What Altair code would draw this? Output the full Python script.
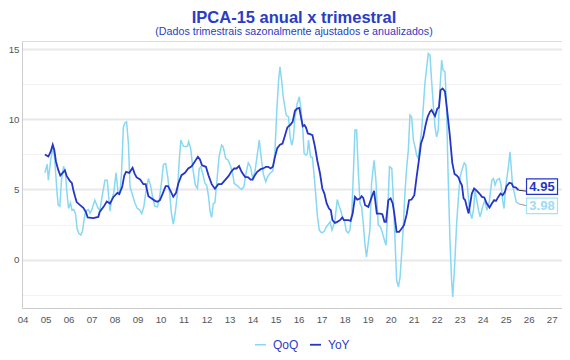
import altair as alt
import pandas as pd

# ---- data (decimal year, % a.a.) ----
yoy_x = [2004.97, 2005.12, 2005.22, 2005.31, 2005.38, 2005.45, 2005.55, 2005.64, 2005.75, 2005.84, 2005.92,
         2006.06, 2006.14, 2006.2, 2006.28, 2006.35, 2006.5, 2006.64, 2006.75, 2006.83, 2007.07, 2007.29,
         2007.35, 2007.52, 2007.66, 2007.8, 2007.95, 2008.12, 2008.2, 2008.33, 2008.42, 2008.5, 2008.64,
         2008.78, 2008.88, 2008.96, 2009.11, 2009.25, 2009.35, 2009.47, 2009.61, 2009.76, 2009.86, 2009.97,
         2010.09, 2010.22, 2010.32, 2010.43, 2010.55, 2010.67, 2010.77, 2010.91, 2011.06, 2011.2, 2011.35,
         2011.45, 2011.62, 2011.71, 2011.8, 2011.97, 2012.08, 2012.22, 2012.36, 2012.51, 2012.65, 2012.8,
         2012.95, 2013.09, 2013.2, 2013.3, 2013.41, 2013.52, 2013.67, 2013.81, 2013.91, 2014.0, 2014.1,
         2014.2, 2014.35, 2014.46, 2014.58, 2014.68, 2014.78, 2014.88, 2014.97, 2015.07, 2015.19, 2015.3,
         2015.41, 2015.51, 2015.63, 2015.74, 2015.84, 2015.94, 2016.03, 2016.1, 2016.18, 2016.25, 2016.32,
         2016.4, 2016.5, 2016.6, 2016.71, 2016.81, 2016.93, 2017.03, 2017.12, 2017.22, 2017.32, 2017.4,
         2017.47, 2017.58, 2017.68, 2017.8, 2017.9, 2017.97, 2018.16, 2018.26, 2018.35, 2018.45, 2018.55,
         2018.67, 2018.74, 2018.81, 2018.89, 2019.03, 2019.18, 2019.28, 2019.4, 2019.54, 2019.64, 2019.73,
         2019.8, 2019.9, 2020.0, 2020.09, 2020.16, 2020.26, 2020.37, 2020.48, 2020.58, 2020.7, 2020.8,
         2020.91, 2021.03, 2021.13, 2021.23, 2021.32, 2021.42, 2021.52, 2021.61, 2021.71, 2021.78, 2021.86,
         2021.93, 2022.03, 2022.1, 2022.17, 2022.26, 2022.36, 2022.44, 2022.57, 2022.68, 2022.78, 2022.87,
         2022.95, 2023.02, 2023.1, 2023.17, 2023.24, 2023.31, 2023.39, 2023.46, 2023.53, 2023.63, 2023.75,
         2023.86, 2023.97, 2024.07, 2024.18, 2024.3, 2024.4, 2024.5, 2024.58, 2024.68, 2024.78, 2024.87,
         2024.97, 2025.04, 2025.16, 2025.26, 2025.33, 2025.45, 2025.56]
yoy_y = [7.5, 7.35, 7.7, 8.2, 7.8, 7.0, 6.4, 6.0, 6.2, 6.37, 5.95,
         5.6, 5.47, 5.0, 4.5, 4.1, 3.88, 3.69, 3.4, 3.0, 2.95, 3.04,
         3.4, 3.76, 4.14, 4.0, 4.47, 4.76, 4.67, 5.19, 6.0, 6.26, 6.19,
         6.55, 6.1, 5.86, 5.71, 5.38, 5.38, 4.52, 4.36, 4.19, 4.12, 4.24,
         4.71, 5.24, 5.24, 4.9, 4.48, 4.76, 5.43, 6.02, 6.19, 6.5, 6.66,
         6.9, 7.33, 7.15, 6.72, 6.62, 6.02, 5.38, 5.05, 5.38, 5.38, 5.67,
         5.95, 6.31, 6.5, 6.5, 6.67, 6.26, 5.9, 5.86, 5.71, 5.71, 6.02,
         6.26, 6.45, 6.5, 6.62, 6.62, 6.5, 6.62, 7.31, 7.95, 8.2, 8.28,
         8.88, 9.43, 9.6, 9.83, 10.62, 10.78, 10.83, 10.19, 9.52, 9.6, 9.43,
         9.0, 8.95, 8.88, 8.05, 7.09, 6.14, 5.07, 4.71, 4.0, 3.64, 3.52,
         2.81, 2.62, 2.69, 2.81, 3.0, 2.81, 2.81, 2.76, 3.28, 4.47, 4.28,
         4.35, 4.52, 4.4, 3.88, 3.76, 4.47, 4.9, 3.28, 3.28, 3.24, 2.69,
         2.69, 4.24, 4.36, 4.0, 3.28, 1.98, 1.98, 2.21, 2.45, 3.24, 4.24,
         4.28, 4.59, 5.9, 7.09, 8.28, 8.76, 9.6, 10.19, 10.55, 10.67, 10.43,
         10.24, 10.78, 10.86, 12.09, 12.21, 12.0, 10.9, 8.9, 6.9, 6.1, 6.0,
         5.86, 5.55, 5.3, 4.36, 4.24, 3.76, 3.29, 4.0, 4.71, 5.07, 4.9,
         4.71, 4.47, 4.43, 4.0, 3.71, 4.0, 4.24, 4.19, 4.47, 4.71, 4.59,
         4.83, 5.24, 5.48, 5.43, 5.19, 5.14, 4.95]

qoq_x = [2004.97, 2005.07, 2005.12, 2005.22, 2005.33, 2005.4, 2005.5, 2005.55, 2005.62, 2005.69, 2005.78,
         2005.86, 2005.93, 2006.0, 2006.08, 2006.15, 2006.22, 2006.3, 2006.37, 2006.45, 2006.53, 2006.6,
         2006.66, 2006.72, 2006.79, 2006.86, 2006.93, 2007.0, 2007.14, 2007.29, 2007.36, 2007.43, 2007.58,
         2007.68, 2007.8, 2007.87, 2007.97, 2008.06, 2008.16, 2008.23, 2008.3, 2008.38, 2008.45, 2008.52,
         2008.6, 2008.67, 2008.78, 2008.89, 2008.99, 2009.08, 2009.18, 2009.27, 2009.36, 2009.47, 2009.56,
         2009.65, 2009.75, 2009.86, 2009.94, 2010.05, 2010.12, 2010.22, 2010.31, 2010.41, 2010.47, 2010.55,
         2010.64, 2010.73, 2010.81, 2010.88, 2010.99, 2011.09, 2011.17, 2011.22, 2011.31, 2011.41, 2011.51,
         2011.6, 2011.68, 2011.75, 2011.83, 2011.93, 2012.0, 2012.08, 2012.15, 2012.22, 2012.29, 2012.36,
         2012.45, 2012.54, 2012.65, 2012.72, 2012.83, 2012.94, 2013.04, 2013.13, 2013.2, 2013.3, 2013.42,
         2013.52, 2013.62, 2013.71, 2013.81, 2013.91, 2014.0, 2014.1, 2014.2, 2014.29, 2014.36, 2014.46,
         2014.57, 2014.65, 2014.75, 2014.88, 2014.97, 2015.06, 2015.13, 2015.19, 2015.26, 2015.33, 2015.4,
         2015.46, 2015.56, 2015.63, 2015.7, 2015.77, 2015.84, 2015.94, 2016.03, 2016.1, 2016.18, 2016.24,
         2016.32, 2016.38, 2016.43, 2016.52, 2016.6, 2016.68, 2016.75, 2016.82, 2016.9, 2017.0, 2017.1,
         2017.19, 2017.26, 2017.37, 2017.45, 2017.52, 2017.58, 2017.68, 2017.77, 2017.83, 2017.9, 2018.0,
         2018.07, 2018.16, 2018.23, 2018.31, 2018.38, 2018.45, 2018.52, 2018.6, 2018.67, 2018.74, 2018.81,
         2018.88, 2018.95, 2019.1, 2019.17, 2019.28, 2019.36, 2019.46, 2019.56, 2019.65, 2019.73, 2019.8,
         2019.87, 2019.95, 2020.05, 2020.12, 2020.19, 2020.26, 2020.34, 2020.41, 2020.48, 2020.55, 2020.62,
         2020.7, 2020.77, 2020.84, 2020.91, 2020.99, 2021.06, 2021.13, 2021.2, 2021.28, 2021.35, 2021.42,
         2021.49, 2021.57, 2021.64, 2021.71, 2021.78, 2021.86, 2021.93, 2022.0, 2022.07, 2022.14, 2022.22,
         2022.28, 2022.36, 2022.42, 2022.5, 2022.58, 2022.65, 2022.7, 2022.78, 2022.87, 2022.95, 2023.02,
         2023.1, 2023.2, 2023.27, 2023.34, 2023.43, 2023.53, 2023.6, 2023.67, 2023.72, 2023.82, 2023.89,
         2024.0, 2024.1, 2024.18, 2024.29, 2024.4, 2024.47, 2024.54, 2024.62, 2024.73, 2024.8, 2024.87,
         2024.93, 2024.99, 2025.04, 2025.12, 2025.19, 2025.24, 2025.3, 2025.35, 2025.4, 2025.46, 2025.56]
qoq_y = [6.19, 6.8, 5.66, 7.1, 8.1, 7.1, 4.7, 3.88, 3.8, 5.66, 6.66,
         6.26, 4.7, 3.64, 4.05, 3.52, 3.57, 3.28, 2.2, 1.85, 1.75, 2.0,
         2.7, 3.3, 3.52, 3.57, 3.3, 3.52, 4.24, 3.64, 3.52, 4.24, 5.66,
         5.66, 3.45, 4.24, 4.83, 6.19, 4.7, 4.71, 6.14, 9.47, 9.76, 9.83,
         8.28, 5.19, 4.59, 4.0, 3.64, 3.57, 3.28, 3.76, 4.83, 5.78, 5.31,
         4.48, 3.81, 3.76, 4.24, 5.66, 6.78, 6.85, 5.9, 4.48, 3.28, 2.52,
         3.4, 4.71, 7.09, 8.52, 8.09, 8.05, 8.1, 8.42, 7.9, 6.38, 5.31,
         5.07, 6.5, 6.62, 6.14, 5.43, 5.31, 4.55, 3.43, 3.0, 4.0, 4.05,
         5.66, 7.33, 8.17, 8.05, 7.21, 7.09, 6.67, 6.14, 5.43, 5.31, 5.14,
         5.0, 5.19, 6.14, 6.9, 6.62, 5.79, 6.26, 7.45, 8.52, 7.45, 6.14,
         5.55, 5.9, 6.14, 6.33, 7.69, 10.9, 12.8, 13.76, 12.8, 11.62, 10.9,
         10.31, 10.19, 8.76, 8.16, 8.64, 10.19, 11.14, 11.62, 10.78, 9.35, 7.57,
         7.45, 7.57, 8.52, 7.33, 7.29, 5.9, 4.47, 3.05, 2.1, 1.9, 1.98,
         2.29, 2.45, 2.69, 2.1, 2.45, 2.81, 4.28, 3.76, 3.52, 3.05, 2.69,
         2.05, 1.9, 2.1, 3.28, 6.14, 9.24, 9.24, 6.14, 4.0, 3.76, 2.57,
         1.14, 0.19, 2.14, 5.43, 7.09, 5.66, 2.45, 2.33, 1.86, 1.38, 1.02,
         3.28, 6.62, 6.5, 4.24, 1.38, -1.48, -1.95, -1.24, 0.43, 2.33, 4.71,
         6.62, 7.81, 10.31, 10.19, 8.52, 8.05, 7.45, 7.21, 8.28, 9.24, 10.9,
         12.57, 13.76, 14.71, 14.6, 12.81, 10.9, 9.47, 8.76, 9.24, 12.09, 14.24,
         13.52, 13.4, 11.5, 6.0, 1.38, -1.5, -2.67, -0.5, 2.57, 4.5, 5.9,
         6.38, 6.9, 6.74, 5.19, 3.52, 2.93, 3.52, 4.95, 4.47, 3.52, 3.05,
         3.76, 4.24, 3.52, 4.12, 5.67, 5.79, 5.31, 5.67, 5.79, 5.31, 4.24,
         3.64, 4.95, 5.67, 6.62, 7.69, 6.62, 5.31, 4.95, 4.59, 4.12, 3.98]

series_names = ["QoQ", "YoY"]
series_colors = ["#88d8f2", "#2535c6"]
year_ticks = list(range(2004, 2028))
y_ticks = [-2.5, 0, 2.5, 5, 7.5, 10, 12.5, 15]

df = pd.concat([
    pd.DataFrame({"t": qoq_x, "v": qoq_y, "s": "QoQ"}),
    pd.DataFrame({"t": yoy_x, "v": yoy_y, "s": "YoY"}),
], ignore_index=True)

FONT = "Liberation Sans"
x_scale = alt.Scale(domain=[2003.974, 2027.45], nice=False, zero=False)
y_scale = alt.Scale(domain=[-3.46, 15.6], nice=False, zero=False)

x_axis = alt.Axis(values=year_ticks, format="d", labelExpr="substring(datum.label, 2)",
                  title=None, grid=False, ticks=False, tickSize=0, labelPadding=6,
                  domainColor="#cccccc", labelColor="#555555", labelFontSize=9.7,
                  labelFont=FONT, labelFlush=False, labelOverlap=False)
y_axis = alt.Axis(values=y_ticks, labelExpr="datum.value % 5 === 0 ? datum.label : ''",
                  title=None, ticks=False, tickSize=0, labelPadding=3,
                  domainColor="#cccccc", labelColor="#555555", labelFontSize=9.7,
                  labelFont=FONT,
                  gridColor={"condition": {"test": "datum.value % 5 === 0", "value": "#e8e8e8"},
                             "value": "#f2f2f2"},
                  gridWidth={"condition": {"test": "datum.value % 5 === 0", "value": 2},
                             "value": 1})

X = alt.X("t:Q", scale=x_scale, axis=x_axis)
Y = alt.Y("v:Q", scale=y_scale, axis=y_axis)

lines = alt.Chart(df).mark_line(interpolate="linear").encode(
    x=X, y=Y,
    color=alt.Color("s:N", scale=alt.Scale(domain=series_names, range=series_colors),
                    legend=alt.Legend(title=None, orient="none", legendX=232, legendY=297,
                                      direction="horizontal", symbolType="stroke",
                                      symbolSize=121, symbolStrokeWidth=2,
                                      labelColor="#2b3cc4", labelFontSize=12, labelFont=FONT,
                                      columnPadding=7, labelOffset=6, padding=0)),
    strokeWidth=alt.StrokeWidth("s:N", scale=alt.Scale(domain=series_names, range=[1.5, 1.8]),
                                legend=None),
)


def end_label(name, color, text_color, line_color, dy, ldy):
    d = df[df.s == name].tail(1)
    base = alt.Chart(d).encode(x=X, y=Y)
    conn = base.mark_rule(color=line_color, strokeWidth=1, x2Offset=8, y2Offset=ldy).encode(
        x2="t:Q", y2="v:Q")
    box = base.mark_point(shape="M-1,-0.5H1V0.5H-1Z", size=961, filled=True, fill="white",
                          fillOpacity=1, stroke=color, strokeWidth=1.2, opacity=1,
                          xOffset=23.5, yOffset=dy)
    txt = base.mark_text(font=FONT, fontWeight="bold", fontSize=13, color=text_color,
                         xOffset=23.5, yOffset=dy + 0.5, baseline="middle").encode(
        text=alt.Text("v:Q", format=".2f"))
    return [conn, box, txt]


layers = [lines]
layers += end_label("YoY", "#2535c6", "#2535c6", "#333333", -3.5, 1)
layers += end_label("QoQ", "#a6e2f6", "#9edcf4", "#999999", 2, 2)

chart = alt.layer(*layers).properties(
    width=540, height=267,
    autosize=alt.AutoSizeParams(type="none"),
    padding={"left": 14, "top": 33, "right": 0, "bottom": 44},
    title=alt.TitleParams(
        text="IPCA-15 anual x trimestral",
        subtitle="(Dados trimestrais sazonalmente ajustados e anualizados)",
        font=FONT, fontSize=16.5, fontWeight="bold", color="#2b3cc4",
        subtitleFont=FONT, subtitleFontSize=10.7, subtitleColor="#2b3cc4",
        anchor="middle", offset=4, subtitlePadding=1, dx=2,
    ),
).configure_view(stroke=None).configure(background="white")

chart.save("out.html", embed_options={"renderer": "svg", "actions": False})
